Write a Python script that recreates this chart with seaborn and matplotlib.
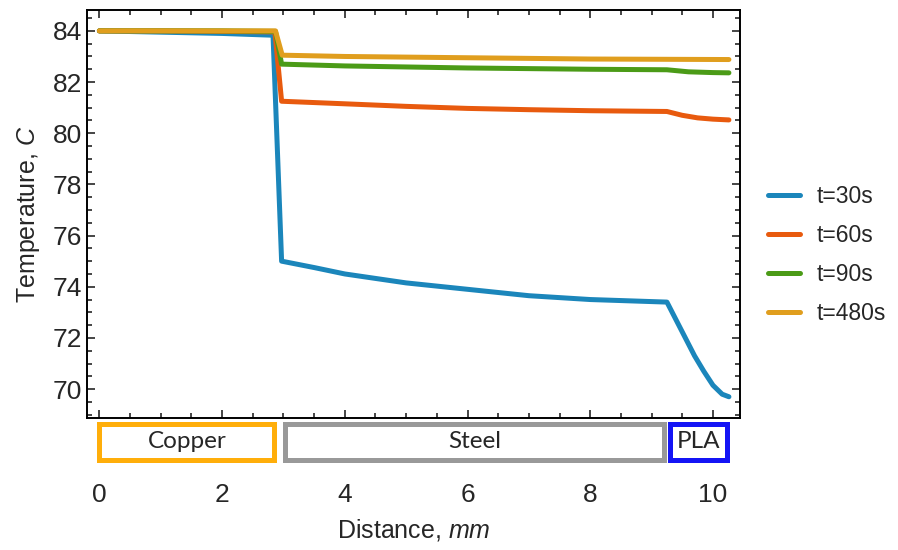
import numpy as np
import pandas as pd
import matplotlib
matplotlib.use("Agg")
import matplotlib.pyplot as plt
import seaborn as sns
from matplotlib.patches import Rectangle
from matplotlib.ticker import MultipleLocator

# ------------------------------
# Data
# ------------------------------

x_30 = [0, 1, 2, 2.83, 2.97, 3.5, 4, 5, 6, 7, 8, 9, 9.25,
        9.4, 9.55, 9.7, 9.85, 10.0, 10.15, 10.26]
t_30 = [84.0, 83.95, 83.9, 83.83, 75.0, 74.75, 74.5, 74.15, 73.9, 73.65, 73.5, 73.42, 73.4,
        72.7, 72.0, 71.3, 70.7, 70.15, 69.8, 69.7]

x_60 = [0, 1, 2, 2.86, 2.97, 4, 5, 6, 7, 8, 9.25, 9.5, 9.75, 10.0, 10.26]
t_60 = [84.0, 84.0, 83.98, 83.96, 81.25, 81.15, 81.05, 80.97, 80.92, 80.88, 80.85,
        80.7, 80.6, 80.55, 80.52]

x_90 = [0, 1, 2, 2.87, 2.97, 4, 6, 8, 9.25, 9.6, 10.0, 10.26]
t_90 = [84.0, 84.0, 84.0, 83.98, 82.7, 82.63, 82.55, 82.5, 82.48, 82.4, 82.37, 82.36]

x_480 = [0, 1, 2, 2.87, 2.98, 4, 6, 8, 10.26]
t_480 = [84.0, 84.0, 84.0, 84.0, 83.05, 83.0, 82.95, 82.9, 82.88]

series_names = ["t=30s", "t=60s", "t=90s", "t=480s"]
series_colors = ["#1b86bb", "#e85a0e", "#4b9b17", "#e09e1e"]

materials = ["Copper", "Steel", "PLA"]
mat_start = [0.0, 3.03, 9.3]
mat_end = [2.85, 9.2, 10.23]
mat_colors = ["#ffae0a", "#999999", "#1414f5"]

frames = []
for name, xs, ts in zip(series_names, [x_30, x_60, x_90, x_480], [t_30, t_60, t_90, t_480]):
    frames.append(pd.DataFrame({"Distance": xs, "Temperature": ts, "Series": name}))
df = pd.concat(frames, ignore_index=True)

# ------------------------------
# Plot
# ------------------------------

sns.set_style("ticks")
plt.rcParams["font.family"] = ["Liberation Sans", "DejaVu Sans"]
plt.rcParams["mathtext.fontset"] = "custom"
plt.rcParams["mathtext.rm"] = "Liberation Sans"
plt.rcParams["mathtext.it"] = "Liberation Sans:italic"

fig = plt.figure(figsize=(8.98, 5.5), dpi=100)
ax = fig.add_axes([0.097, 0.24, 0.727, 0.742])

sns.lineplot(data=df, x="Distance", y="Temperature", hue="Series",
             palette=dict(zip(series_names, series_colors)), hue_order=series_names,
             sort=False, estimator=None, linewidth=3.6, ax=ax)

ax.set_xlim(-0.2, 10.44)
ax.set_ylim(68.87, 84.82)
ax.xaxis.set_major_locator(MultipleLocator(2))
ax.xaxis.set_minor_locator(MultipleLocator(0.5))
ax.yaxis.set_major_locator(MultipleLocator(2))
ax.yaxis.set_minor_locator(MultipleLocator(0.5))
ax.tick_params(which="both", direction="in", top=True, right=True, labelsize=19, width=1.2)
ax.tick_params(which="major", length=6)
ax.tick_params(which="minor", length=3.5)
ax.tick_params(axis="x", which="both", pad=47)
for s in ax.spines.values():
    s.set_linewidth(1.4)
    s.set_color("black")

ax.set_xlabel(r"Distance, $\mathit{mm}$", fontsize=18, labelpad=7)
ax.set_ylabel(r"Temperature, $\mathit{C}$", fontsize=18, labelpad=8)

leg = ax.legend(loc="center left", bbox_to_anchor=(1.012, 0.40), frameon=False,
                fontsize=16.5, handlelength=1.4, handletextpad=0.7, labelspacing=0.7)
for line in leg.get_lines():
    line.set_linewidth(3.6)

# material strip under the axis
strip = fig.add_axes([0.097, 0.1564, 0.727, 0.08])
strip.set_xlim(ax.get_xlim())
strip.set_ylim(0, 1)
strip.axis("off")
for name, x0, x1, c in zip(materials, mat_start, mat_end, mat_colors):
    strip.add_patch(Rectangle((x0, 0.08), x1 - x0, 0.84, fill=False,
                              edgecolor=c, linewidth=3.6))
    strip.text((x0 + x1) / 2, 0.5, name, ha="center", va="center",
               fontsize=17.5, family=["Lato", "DejaVu Sans"])

fig.savefig("out.png", dpi=100)
